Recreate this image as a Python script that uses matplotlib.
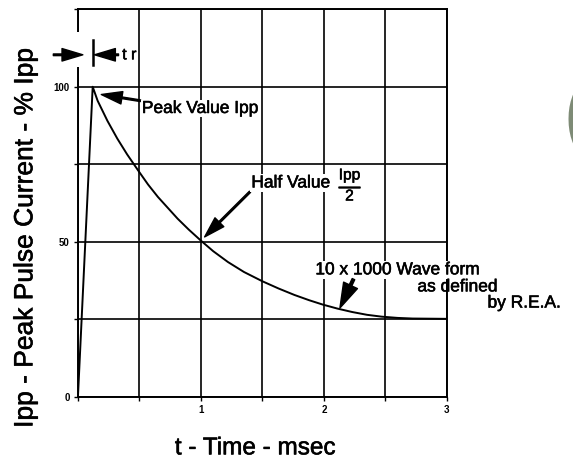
import matplotlib.pyplot as plt
import matplotlib.patheffects as pe
from matplotlib.patches import Rectangle

plt.rcParams['font.family'] = ['Liberation Sans', 'DejaVu Sans']
plt.rcParams['mathtext.fontset'] = 'custom'
plt.rcParams['mathtext.rm'] = 'Liberation Sans'

# waveform (t in msec, current in % Ipp)
t_ms = [0.0, 0.12, 0.16, 0.24, 0.32, 0.40, 0.49, 0.57, 0.65, 0.73, 0.81,
        0.90, 1.0, 1.1, 1.22, 1.35, 1.5, 1.63, 1.76, 1.88, 1.99, 2.11,
        2.23, 2.35, 2.47, 2.6, 2.72, 3.0]
ipp_pct = [0.0, 100.0, 95.5, 89.0, 83.3, 78.2, 73.0, 68.5, 64.5, 61.0, 57.5,
           54.0, 50.4, 47.0, 43.5, 40.3, 37.3, 35.0, 32.9, 31.2, 29.8, 28.5,
           27.4, 26.5, 25.9, 25.5, 25.3, 25.2]

x_grid = [0, 0.5, 1, 1.5, 2, 2.5, 3]
x_labels = ['', '', '1', '', '2', '', '3']
y_grid = [0, 25, 50, 75, 100, 125]
y_labels = ['0', '', '50', '', '100', '']

bold = [pe.withStroke(linewidth=0.4, foreground='black')]

fig = plt.figure(figsize=(5.73, 4.59), dpi=100, facecolor='white')
ax = fig.add_axes([0.136, 0.135, 0.644, 0.845])

ax.plot(t_ms, ipp_pct, color='black', lw=1.4, zorder=3)

ax.set_xlim(0, 3)
ax.set_ylim(0, 125)
ax.set_xticks(x_grid)
ax.set_xticklabels(x_labels, fontsize=7, fontweight='bold')
ax.set_yticks(y_grid)
ax.set_yticklabels(y_labels, fontsize=7, fontweight='bold')
ax.tick_params(length=3, width=1.0, pad=3, direction='out')
ax.grid(True, color='black', lw=1.2)
for s in ax.spines.values():
    s.set_linewidth(1.4)

ax.set_xlabel('t - Time - msec', fontsize=17.5, path_effects=bold)
ax.xaxis.set_label_coords(0.48, -0.104)
ax.set_ylabel('Ipp - Peak Pulse Current - % Ipp', fontsize=19,
              path_effects=bold)
ax.yaxis.set_label_coords(-0.11, 0.41)

# white gap behind the rise time marker
ax.add_patch(Rectangle((-0.19, 106.5), 0.67, 11, facecolor='white',
                       edgecolor='none', clip_on=False, zorder=4))

arrow = dict(facecolor='black', edgecolor='black', width=1.2, headwidth=9,
             headlength=15, shrink=0)
# tr marker
ax.annotate('', xy=(0.04, 110.3), xytext=(-0.2, 110.3), arrowprops=arrow,
            annotation_clip=False, zorder=5)
ax.annotate('', xy=(0.135, 110.3), xytext=(0.33, 110.3), arrowprops=arrow,
            annotation_clip=False, zorder=5)
ax.plot([0.12, 0.12], [107, 115], color='black', lw=1.8, zorder=5,
        clip_on=False)
ax.text(0.36, 110.3, 't r', fontsize=11.5, va='center', zorder=5,
        path_effects=bold)

ax.annotate('Peak Value Ipp', xy=(0.19, 97.5), xytext=(0.52, 93),
            fontsize=12.5, va='center', arrowprops=arrow, zorder=5,
            path_effects=bold,
            bbox=dict(facecolor='white', edgecolor='none', pad=1))
ax.annotate('Half Value', xy=(1.03, 51.6), xytext=(1.41, 69),
            fontsize=12.5, va='center', arrowprops=arrow, zorder=5,
            path_effects=bold,
            bbox=dict(facecolor='white', edgecolor='none', pad=1))
ax.text(2.12, 68.5, r'$\frac{\mathrm{Ipp}}{2}$', fontsize=16, va='center',
        zorder=5, path_effects=bold,
        bbox=dict(facecolor='white', edgecolor='none', pad=0))

ax.text(1.93, 41, '10 x 1000 Wave form', fontsize=12.5, va='center',
        zorder=5, path_effects=bold,
        bbox=dict(facecolor='white', edgecolor='none', pad=1))
ax.annotate('', xy=(2.13, 28.7), xytext=(2.24, 38),
            arrowprops=dict(facecolor='black', edgecolor='black', width=2,
                            headwidth=11, headlength=18, shrink=0), zorder=5)
ax.text(2.76, 35.5, 'as defined', fontsize=12.5, va='center', zorder=5,
        clip_on=False, path_effects=bold)
ax.text(3.33, 30.3, 'by R.E.A.', fontsize=12.5, va='center', zorder=5,
        clip_on=False, path_effects=bold)

# cropped grey-green glyph at the right edge
fig.text(0.982, 0.74, '(', fontsize=64, color='#7e8b76', va='center',
         ha='left')

fig.savefig('out.png', dpi=100)
